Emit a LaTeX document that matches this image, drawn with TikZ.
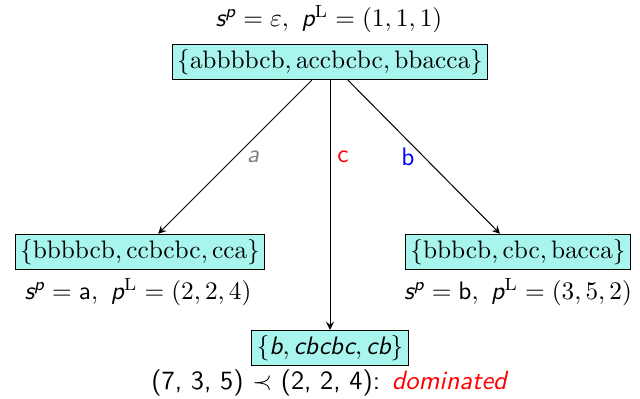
\documentclass[tikz,border=0pt]{standalone}
\usepackage{amsmath}
\usepackage{xcolor}
\newcommand{\si}[1]{\textsf{\itshape #1}}
\newcommand{\su}[1]{\textsf{#1}}
\definecolor{boxfill}{RGB}{168,245,238}
\begin{document}
\begin{tikzpicture}[x=0.3953pt,y=-0.3953pt,
  setbox/.style={draw=black,fill=boxfill,inner sep=2pt},
  lab/.style={inner sep=1pt},
  edge/.style={->,>=stealth,thin}]
\useasboundingbox (0,0) rectangle (640,398);
\node[setbox] (top) at (330,62) {$\{\mathrm{abbbbcb},\mathrm{accbcbc},\mathrm{bbacca}\}$};
\node[lab] (toplab) at (329,19) {$\si{s}^{\si{p}} = \varepsilon,\ \si{p}^{\mathrm{L}} = (1,1,1)$};
\node[setbox] (left) at (140,252) {$\{\mathrm{bbbbcb},\mathrm{ccbcbc},\mathrm{cca}\}$};
\node[lab] (leftlab) at (138,292) {$\si{s}^{\si{p}} = \su{a},\ \si{p}^{\mathrm{L}} = (2,2,4)$};
\node[setbox] (right) at (518,252) {$\{\mathrm{bbbcb},\mathrm{cbc},\mathrm{bacca}\}$};
\node[lab] (rightlab) at (518,292) {$\si{s}^{\si{p}} = \su{b},\ \si{p}^{\mathrm{L}} = (3,5,2)$};
\node[setbox] (mid) at (330,348) {$\{\si{b},\si{cbcbc},\si{cb}\}$};
\node[lab,font=\fontsize{10.4}{12}\selectfont] (midlab) at (330,383) {\su{(7, 3, 5)} $\prec$ \su{(2, 2, 4):} \textcolor{red}{\si{dominated}}};
\draw[edge] (top) -- (left);
\draw[edge] (top) -- (mid);
\draw[edge] (top) -- (right);
\node[lab] (la) at (253,157) {\textcolor{gray}{\si{a}}};
\node[lab] (lc) at (343,157) {\textcolor{red}{\su{c}}};
\node[lab] (lb) at (408,157) {\textcolor{blue}{\su{b}}};
\end{tikzpicture}
\end{document}
